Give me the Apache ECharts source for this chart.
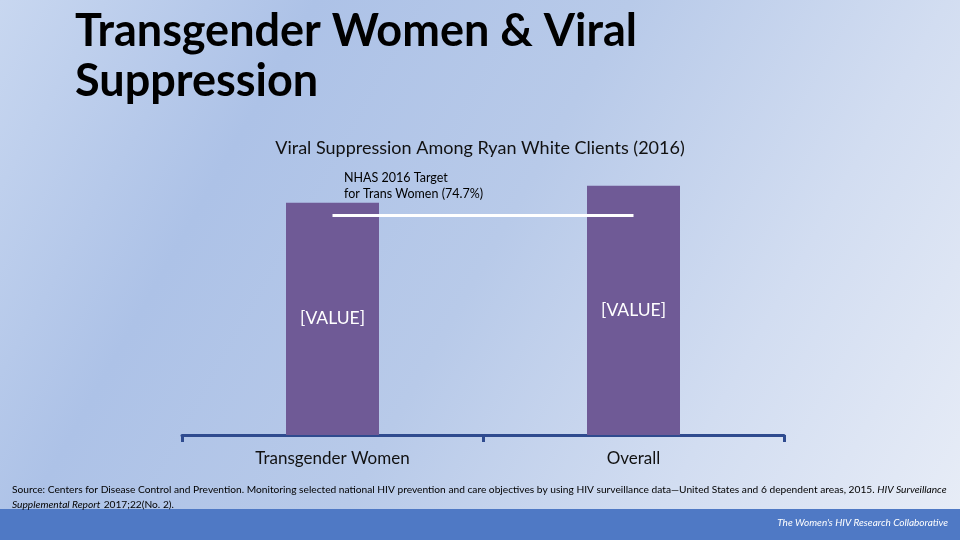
<!DOCTYPE html>
<html><head><meta charset="utf-8">
<script src="https://cdn.jsdelivr.net/npm/echarts@6/dist/echarts.min.js"></script>
<style>html,body{margin:0;padding:0;}#c{width:960px;height:540px;}</style>
</head><body><div id="c"></div>
<script>
var categories = ['Transgender Women', 'Overall'];
var suppression = [78.9, 84.6];
var targetValue = 74.7;
var targetLabel = ['NHAS 2016 Target', 'for Trans Women (74.7%)'];
var valueLabel = '[VALUE]';

var chart = echarts.init(document.getElementById('c'));
chart.setOption({
  backgroundColor: {
    type: 'linear', x: 0, y: 0, x2: 1, y2: 1,
    colorStops: [
      {offset: 0, color: '#c8d7f0'},
      {offset: 0.25, color: '#adc2e7'},
      {offset: 0.5, color: '#b8cae9'},
      {offset: 0.75, color: '#d2ddf1'},
      {offset: 1, color: '#e8edf7'}
    ]
  },
  title: [
    {text: 'Transgender Women & Viral\nSuppression', left: 70, top: 1,
     textStyle: {fontFamily: 'Lato', fontWeight: 'bold', fontSize: 45, lineHeight: 50, color: '#000'}},
    {text: 'Viral Suppression Among Ryan White Clients (2016)', left: 'center', top: 134,
     textStyle: {fontFamily: 'Lato', fontWeight: 'normal', fontSize: 18, color: '#111'}}
  ],
  grid: {left: 182, right: 176, top: 140.5, bottom: 105},
  xAxis: {
    type: 'category', data: categories,
    axisLine: {lineStyle: {color: '#2f4b8f', width: 3}},
    axisTick: {show: true, length: 7, lineStyle: {color: '#2f4b8f', width: 3}},
    axisLabel: {margin: 15, fontFamily: 'Lato', fontSize: 17, color: '#111'}
  },
  yAxis: {type: 'value', min: 0, max: 100, show: false, splitLine: {show: false}},
  series: [{
    type: 'bar', data: suppression, barWidth: 93,
    itemStyle: {color: '#6f5a96'},
    label: {show: true, position: 'inside', formatter: valueLabel,
            fontFamily: 'Lato', fontSize: 17.5, color: '#fff'},
    markLine: {
      symbol: 'none', silent: true,
      lineStyle: {color: '#ffffff', width: 3, type: 'solid'},
      label: {show: false},
      data: [[{coord: [0, targetValue]}, {coord: [1, targetValue]}]]
    }
  }],
  graphic: [
    {type: 'text', left: 344, top: 170,
     style: {text: targetLabel.join('\n'), font: '12.5px Lato', lineHeight: 16, fill: '#000'}},
    {type: 'rect', left: 0, top: 509, shape: {width: 960, height: 31}, style: {fill: '#4f79c5'}},
    {type: 'text', right: 12, top: 518,
     style: {text: "The Women's HIV Research Collaborative", font: 'italic 10px Lato', fill: '#fff'}},
    {type: 'text', left: 12, top: 485,
     style: {
       rich: {
         n: {font: '10.2px Lato', fill: '#000', lineHeight: 15},
         i: {font: 'italic 10.2px Lato', fill: '#000', lineHeight: 15}
       },
       text: '{n|Source: Centers for Disease Control and Prevention. Monitoring selected national HIV prevention and care objectives by using HIV surveillance data\u2014United States and 6 dependent areas, 2015. }{i|HIV Surveillance}\n{i|Supplemental Report} {n|2017;22(No. 2).}'
     }}
  ]
});
</script></body></html>
